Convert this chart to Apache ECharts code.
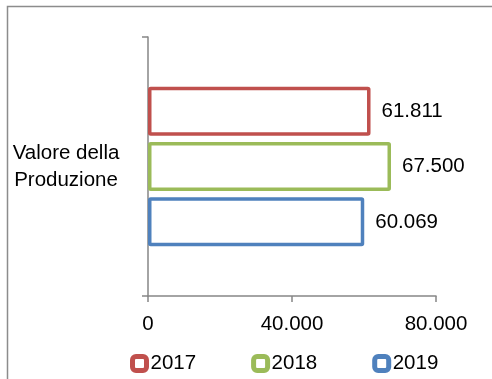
<!DOCTYPE html>
<html><head><meta charset="utf-8">
<script src="https://cdn.jsdelivr.net/npm/echarts@6/dist/echarts.min.js"></script>
<style>html,body{margin:0;padding:0;background:#fff}#c{width:492px;height:379px}</style>
</head><body><div id="c"></div>
<script>
var categories = ['Valore della\nProduzione'];
var seriesNames = ['2017', '2018', '2019'];
var values2017 = [61811];
var values2018 = [67500];
var values2019 = [60069];
var xTicks = [0, 40000, 80000];
var colors = ['#C0504D', '#9BBB59', '#4F81BD'];

function fmt(v) {
  return String(Math.round(v)).replace(/\B(?=(\d{3})+(?!\d))/g, '.');
}
var FONT = 'Liberation Sans';
var all = [values2017, values2018, values2019];
var chart = echarts.init(document.getElementById('c'), null, {renderer: 'canvas'});
chart.setOption({
  animation: false,
  textStyle: {fontFamily: FONT},
  graphic: [{type: 'rect', shape: {x: 7.5, y: 6.5, width: 600, height: 500}, style: {fill: 'none', stroke: '#8c8c8c', lineWidth: 1.5}, silent: true}],
  grid: {left: 148, right: 56, top: 37, bottom: 83, containLabel: false},
  legend: {
    top: 348, left: 125, itemWidth: 14, itemHeight: 14, itemGap: 55,
    itemStyle: {borderWidth: 5},
    textStyle: {fontSize: 20.5, color: '#000', fontFamily: FONT, padding: [0, 0, 0, -1]},
    data: seriesNames
  },
  xAxis: {
    type: 'value', min: xTicks[0], max: xTicks[xTicks.length - 1], interval: xTicks[1] - xTicks[0],
    axisLine: {show: true, lineStyle: {color: '#868686', width: 1.5}},
    axisTick: {show: true, length: 6, lineStyle: {color: '#868686', width: 1.5}},
    splitLine: {show: false},
    axisLabel: {fontSize: 20.5, color: '#000', margin: 18, formatter: fmt}
  },
  yAxis: {
    type: 'category', data: categories,
    axisLine: {show: true, lineStyle: {color: '#868686', width: 1.5}},
    axisTick: {show: true, length: 6, alignWithLabel: false, lineStyle: {color: '#868686', width: 1.5}},
    axisLabel: {fontSize: 20.5, color: '#000', align: 'center', margin: 82, lineHeight: 27, padding: [6, 0, 0, 0]}
  },
  series: seriesNames.map(function (n, i) {
    return {
      name: n, type: 'bar', data: all[i], barWidth: 49, barGap: '13%',
      itemStyle: {color: '#fff', borderColor: colors[i], borderWidth: 3.5, borderRadius: 1},
      label: {show: true, position: 'right', distance: 11, fontSize: 20.5, color: '#000', formatter: function (p) { return fmt(p.value); }}
    };
  })
});
</script></body></html>
